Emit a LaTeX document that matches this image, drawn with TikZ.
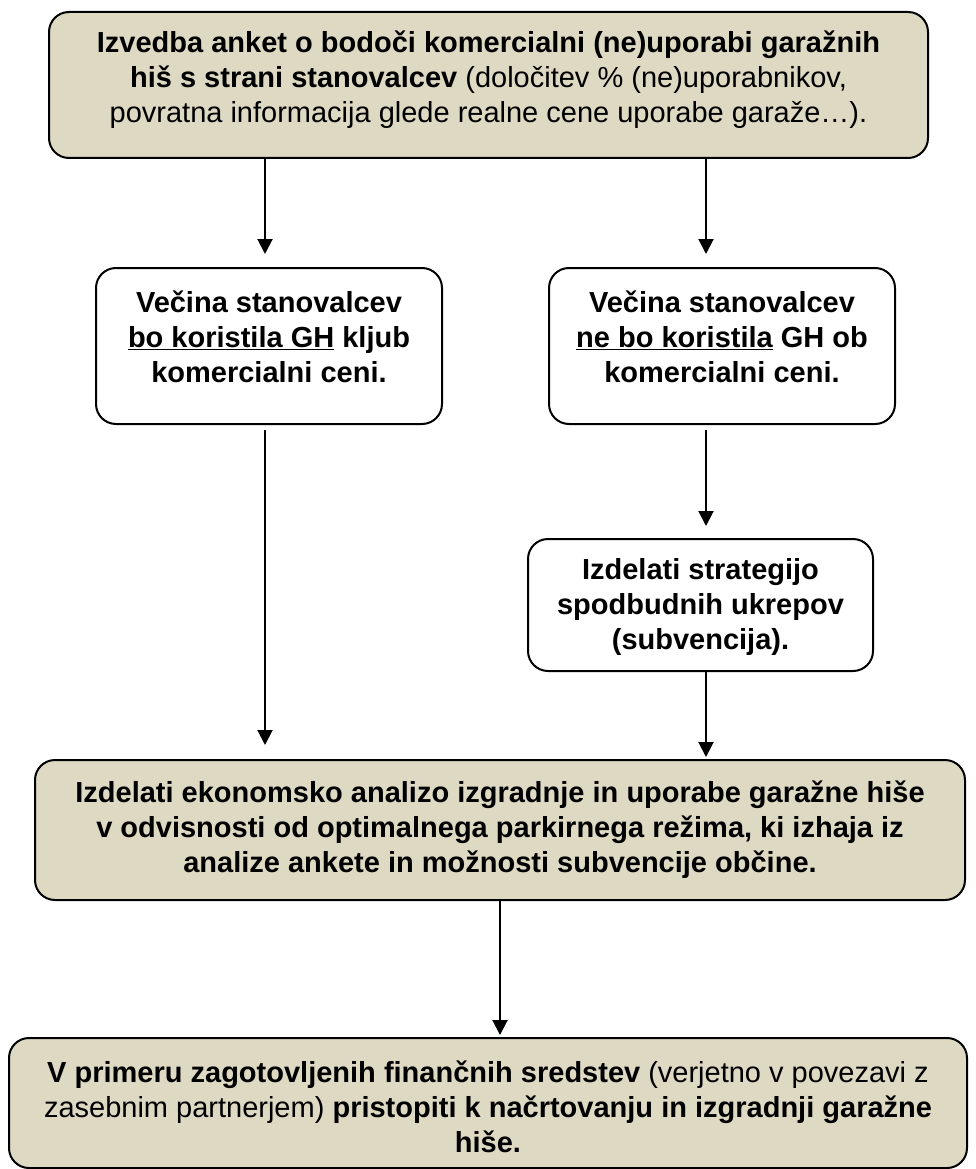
\documentclass[tikz,border=0pt]{standalone}
\usepackage{fontspec}
\setmainfont{Liberation Sans}
\usetikzlibrary{arrows.meta}
\definecolor{tanfill}{RGB}{221,217,195}
\begin{document}
\begin{tikzpicture}[x=1pt,y=-1pt,
  box/.style={draw=black, line width=2pt, rounded corners=20pt, inner sep=0pt},
  tanbox/.style={box, fill=tanfill},
  whitebox/.style={box, fill=white},
  txt/.style={align=center, font=\fontsize{29}{35}\selectfont, inner sep=0pt},
  arr/.style={line width=2pt, -{Triangle[width=15pt,length=15pt]}}]
\useasboundingbox (0,0) rectangle (976,1169);
% boxes
\node[tanbox, minimum width=879pt, minimum height=146pt] (top) at (488.5,85) {};
\node[whitebox, minimum width=346pt, minimum height=156pt] (midL) at (269,346) {};
\node[whitebox, minimum width=346pt, minimum height=156pt] (midR) at (722,346) {};
\node[whitebox, minimum width=345pt, minimum height=132pt] (strat) at (700.5,605) {};
\node[tanbox, minimum width=930pt, minimum height=140pt] (big) at (500,830) {};
\node[tanbox, minimum width=958pt, minimum height=130pt] (bot) at (488,1103) {};
% texts
\node[txt] (topT) at (488.5,80) {\textbf{Izvedba anket o bodoči komercialni (ne)uporabi garažnih}\\\textbf{hiš s strani stanovalcev} (določitev \% (ne)uporabnikov,\\povratna informacija glede realne cene uporabe garaže…).};
\node[txt] (midLT) at (269,337) {\textbf{Večina stanovalcev}\\\textbf{\underline{bo koristila GH} kljub}\\\textbf{komercialni ceni.}};
\node[txt] (midRT) at (722,337) {\textbf{Večina stanovalcev}\\\textbf{\underline{ne bo koristila} GH ob}\\\textbf{komercialni ceni.}};
\node[txt] (stratT) at (700.5,607) {\textbf{Izdelati strategijo}\\\textbf{spodbudnih ukrepov}\\\textbf{(subvencija).}};
\node[txt] (bigT) at (500,830) {\textbf{Izdelati ekonomsko analizo izgradnje in uporabe garažne hiše}\\\textbf{v odvisnosti od optimalnega parkirnega režima, ki izhaja iz}\\\textbf{analize ankete in možnosti subvencije občine.}};
\node[txt] (botT) at (488,1107) {\textbf{V primeru zagotovljenih finančnih sredstev} (verjetno v povezavi z\\zasebnim partnerjem) \textbf{pristopiti k načrtovanju in izgradnji garažne}\\\textbf{hiše.}};
% arrow columns
\coordinate (cL) at (265,0);
\coordinate (cR) at (706,0);
\coordinate (cB) at (500,0);
% connectors
\draw[arr, shorten >=13pt] (top.south -| cL) -- (midL.north -| cL);
\draw[arr, shorten >=13pt] (top.south -| cR) -- (midR.north -| cR);
\draw[arr, shorten <=5pt, shorten >=14pt] (midL.south -| cL) -- (big.north -| cL);
\draw[arr, shorten <=5pt, shorten >=12pt] (midR.south -| cR) -- (strat.north -| cR);
\draw[arr, shorten >=2pt] (strat.south -| cR) -- (big.north -| cR);
\draw[arr, shorten >=2pt] (big.south -| cB) -- (bot.north -| cB);
\end{tikzpicture}
\end{document}
